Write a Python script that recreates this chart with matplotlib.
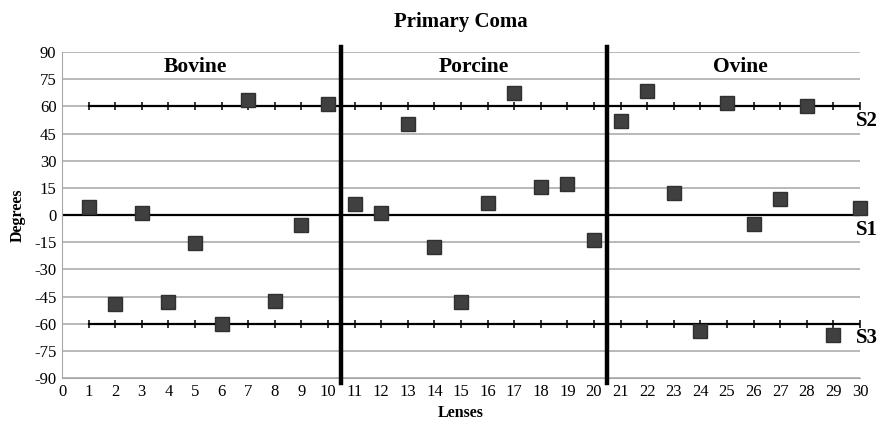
import matplotlib
matplotlib.use('Agg')
import matplotlib.pyplot as plt
import numpy as np

plt.rcParams['font.family'] = ['Liberation Serif', 'DejaVu Serif']
plt.rcParams['axes.unicode_minus'] = False

# данные: угол комы по линзам
lenses = list(range(1, 31))
degrees = [4.6, -49.3, 0.9, -47.9, -15.3, -60.2, 63.5, -47.3, -5.5, 61.2,
           6.1, 0.9, 50.3, -17.5, -47.9, 6.4, 67.2, 15.6, 17.1, -13.8,
           52.0, 68.6, 12.3, -64.0, 61.7, -5.0, 8.7, 60.4, -66.3, 4.0]
groups = ['Bovine', 'Porcine', 'Ovine']
group_centers = [5, 15.5, 25.5]
separators = [10.5, 20.5]
s_levels = [60, 0, -60]
s_names = ['S2', 'S1', 'S3']
yticks = list(range(-90, 91, 15))

fig = plt.figure(figsize=(8.82, 4.25), dpi=100)
ax = fig.add_axes([0.0703, 0.1106, 0.9047, 0.767])

ax.set_xlim(0, 30)
ax.set_ylim(-90, 90)
ax.set_yticks(yticks)
ax.set_xticks(range(0, 31))
ax.tick_params(axis='both', length=0, labelsize=12, pad=4)
ax.grid(axis='y', color='#a6a6a6', linewidth=1.1)
ax.set_axisbelow(True)
for side in ['top', 'right']:
    ax.spines[side].set_visible(False)
ax.spines['left'].set_color('#a6a6a6')
ax.spines['bottom'].set_color('#a6a6a6')

# линии S1, S2, S3
ax.axhline(0, color='black', linewidth=1.6, zorder=2)
for lev in [60, -60]:
    ax.plot([1, 30], [lev, lev], color='black', linewidth=1.6, zorder=2)
    ax.plot(lenses, [lev] * 30, linestyle='none', marker='|', markersize=6,
            markeredgewidth=1.1, color='black', zorder=2)
for lev, name in zip(s_levels, s_names):
    ax.text(29.85, lev - 2.5, name, fontsize=15, fontweight='bold', va='top', ha='left')

# разделители групп
for xs in separators:
    ax.plot([xs, xs], [-93, 93], color='black', linewidth=3.2, clip_on=False, zorder=3)
for xc, g in zip(group_centers, groups):
    ax.text(xc, 82, g, fontsize=15.5, fontweight='bold', ha='center', va='center')

ax.plot(lenses, degrees, linestyle='none', marker='s', markersize=9.5,
        color='#404040', markeredgecolor='#303030', zorder=4, clip_on=False)

ax.set_title('Primary Coma', fontsize=15, fontweight='bold', pad=18)
ax.set_xlabel('Lenses', fontsize=11.5, fontweight='bold', labelpad=4)
ax.set_ylabel('Degrees', fontsize=11.5, fontweight='bold', labelpad=6)

fig.savefig('out.png', dpi=100)
